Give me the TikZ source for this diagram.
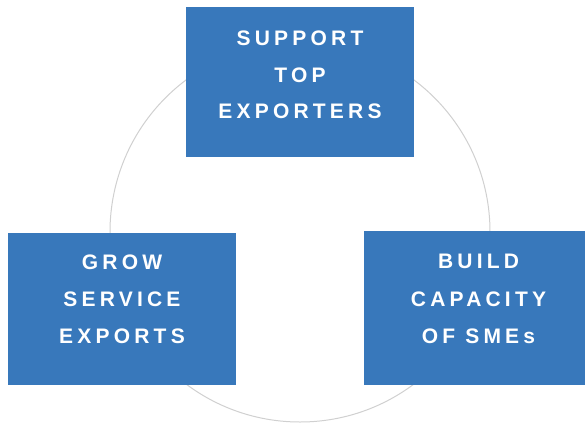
\documentclass[tikz,border=0pt]{standalone}
\usepackage{fontspec}
\newfontfamily\boxfont[LetterSpace=20]{Liberation Sans}
\definecolor{boxblue}{HTML}{3878BB}
\definecolor{ringgray}{HTML}{D0D0D0}
\tikzset{
  panel/.style={fill=boxblue, draw=none, rectangle, inner sep=0pt, anchor=north west},
  caption/.style={text=white, font=\boxfont\bfseries\fontsize{21}{24}\selectfont, anchor=base, inner sep=0pt},
  ring/.style={draw=ringgray, line width=1pt}
}
\begin{document}
\begin{tikzpicture}[x=1pt,y=-1pt]
\useasboundingbox (0,0) rectangle (585,423);
\coordinate (c) at (300,232);
\draw[ring] (c) circle[radius=190];
\node[panel, minimum width=228pt, minimum height=150pt] (top) at (186,7) {};
\node[panel, minimum width=228pt, minimum height=152pt] (left) at (8,233) {};
\node[panel, minimum width=221pt, minimum height=154pt] (right) at (364,231) {};
\node[caption] (t1) at (300,45) {SUPPORT};
\node[caption] (t2) at (300,82) {TOP};
\node[caption] (t3) at (300,118) {EXPORTERS};
\node[caption] (l1) at (122,269) {GROW};
\node[caption] (l2) at (122,306) {SERVICE};
\node[caption] (l3) at (122,343) {EXPORTS};
\node[caption] (r1) at (478.5,268) {BUILD};
\node[caption] (r2) at (478.5,306) {CAPACITY};
\node[caption] (r3) at (478.5,343) {OF SMEs};
\end{tikzpicture}
\end{document}
